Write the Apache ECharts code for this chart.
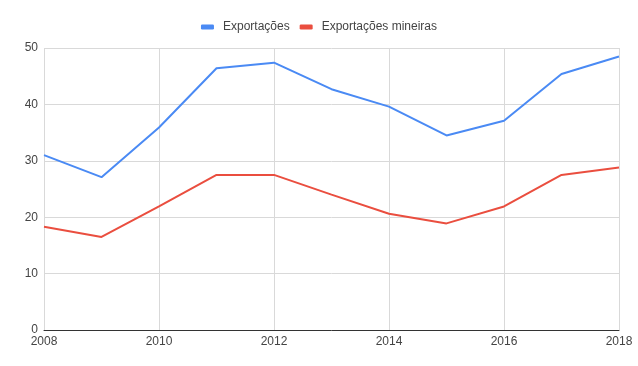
<!DOCTYPE html>
<html>
<head>
<meta charset="utf-8">
<script src="https://cdn.jsdelivr.net/npm/echarts@6/dist/echarts.min.js"></script>
<style>html,body{margin:0;padding:0;background:#fff}#c{width:638px;height:366px}</style>
</head>
<body>
<div id="c"></div>
<script>
var years = [2008, 2009, 2010, 2011, 2012, 2013, 2014, 2015, 2016, 2017, 2018];
var exportacoes = [31.0, 27.1, 35.9, 46.4, 47.4, 42.7, 39.6, 34.5, 37.1, 45.4, 48.5];
var exportacoesMineiras = [18.3, 16.5, 21.9, 27.5, 27.5, 24.0, 20.6, 18.9, 21.9, 27.5, 28.8];
var seriesNames = ['Exportações', 'Exportações mineiras'];

function pairs(vals) { return years.map(function (y, i) { return [y, vals[i]]; }); }

var FONT = 'Arial, "Liberation Sans", sans-serif';
var chart = echarts.init(document.getElementById('c'));
chart.setOption({
  animation: false,
  color: ['#4a8af4', '#ea4e3f'],
  legend: {
    top: 16,
    left: 'center',
    itemWidth: 13,
    itemHeight: 5,
    itemGap: 10,
    icon: 'roundRect',
    textStyle: { color: '#444', fontSize: 12, fontFamily: FONT, padding: [0, 0, 0, 4] },
    data: seriesNames
  },
  grid: { left: 44, right: 19, top: 48, bottom: 36, containLabel: false },
  xAxis: {
    type: 'value',
    min: 2008, max: 2018, interval: 2,
    axisLine: { show: true, lineStyle: { color: '#333', width: 1 } },
    axisTick: { show: false },
    splitLine: { show: true, lineStyle: { color: '#d9d9d9' } },
    axisLabel: { color: '#444', fontSize: 12, margin: 6, fontFamily: FONT, formatter: function (v) { return String(v); } }
  },
  yAxis: {
    type: 'value',
    min: 0, max: 50, interval: 10,
    axisLine: { show: false },
    axisTick: { show: false },
    splitLine: { show: true, lineStyle: { color: '#d9d9d9' } },
    axisLabel: { color: '#444', fontSize: 12, margin: 6, fontFamily: FONT }
  },
  series: [
    { name: seriesNames[0], type: 'line', data: pairs(exportacoes), showSymbol: false, symbol: 'none', lineStyle: { width: 2 } },
    { name: seriesNames[1], type: 'line', data: pairs(exportacoesMineiras), showSymbol: false, symbol: 'none', lineStyle: { width: 2 } }
  ]
});
</script>
</body>
</html>
